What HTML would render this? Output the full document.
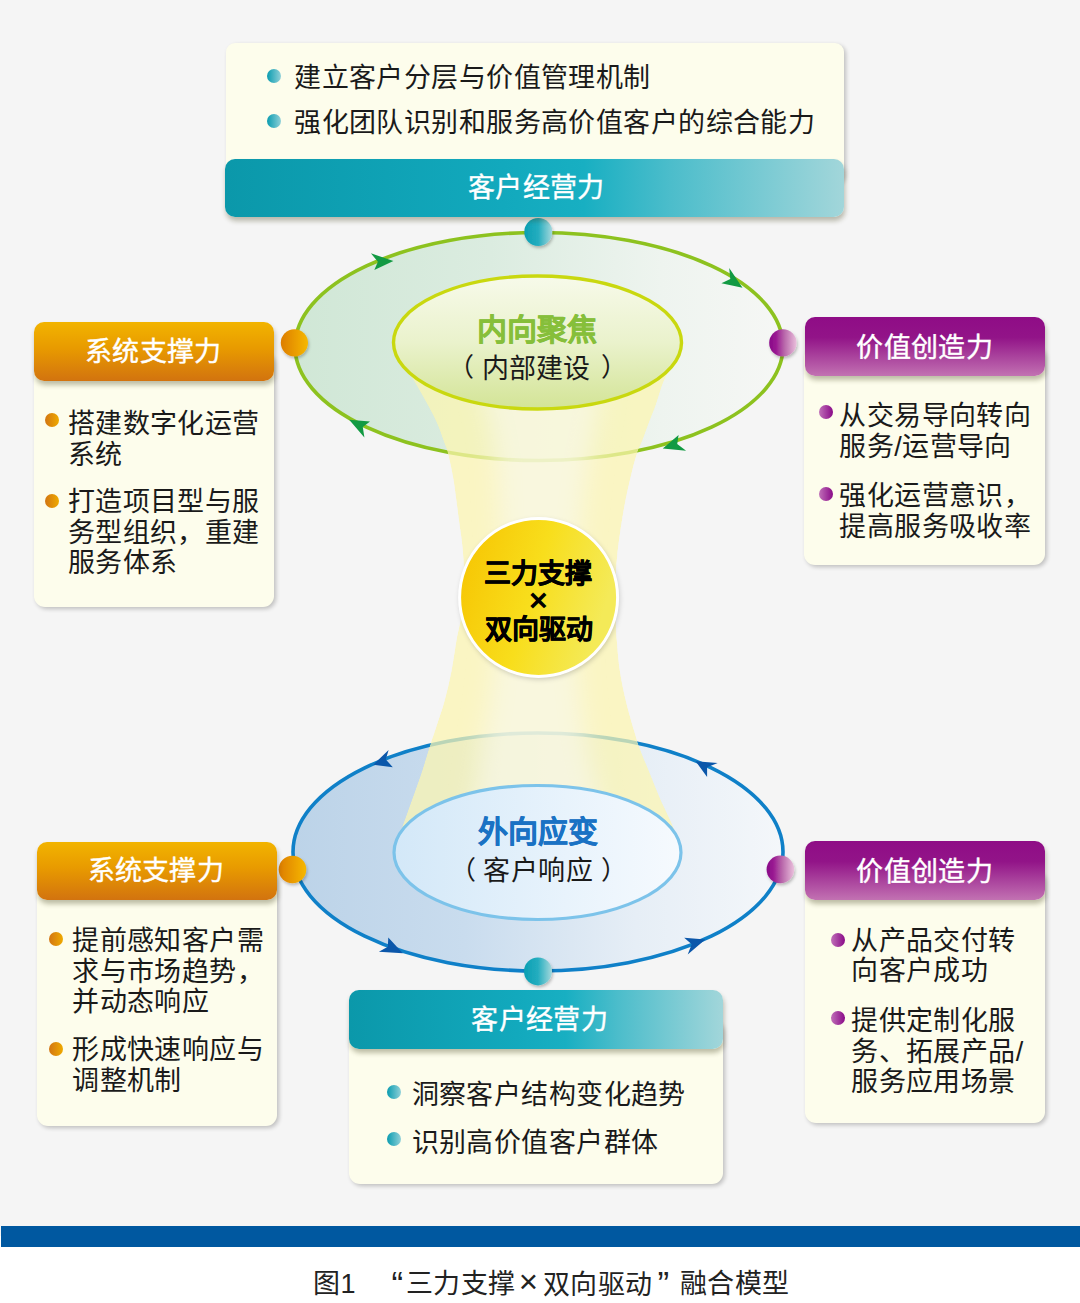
<!DOCTYPE html>
<html lang="zh-CN"><head><meta charset="utf-8"><style>
*{margin:0;padding:0;box-sizing:border-box}
html,body{width:1080px;height:1303px;overflow:hidden}
body{background:#fff;font-family:"Liberation Sans",sans-serif;position:relative;color:#1a1a1a}
.bg{position:absolute;left:0;top:0;width:1080px;height:1236px;background:#f5f5f5}
.bar{position:absolute;left:1px;top:1226px;width:1079px;height:21px;background:#0058a0}
.art{position:absolute;left:0;top:0}
.card{position:absolute;background:#fdfdec;border-radius:11px;box-shadow:2px 2px 4px rgba(0,0,0,0.22)}
.hdr{position:absolute;border-radius:10px;box-shadow:1px 4px 5px rgba(60,60,20,0.33)}
.ht{position:absolute;color:#fff;font-size:27px;line-height:30px;white-space:nowrap;letter-spacing:0.3px;font-weight:500;-webkit-text-stroke:0.4px #fff}
.or{background:linear-gradient(180deg,#f2b400 0%,#e89a00 45%,#d2730f 100%)}
.pu{background:linear-gradient(180deg,#8f0c86 0%,#921488 35%,#c272b2 100%)}
.te{background:linear-gradient(90deg,#0b98aa 0%,#12a9bd 45%,#18afc2 58%,#4cbdcb 72%,#a2d6da 100%)}
.t{position:absolute;font-size:27px;line-height:30.7px;white-space:nowrap;letter-spacing:0.43px}
.dot{position:absolute;width:14px;height:14px;border-radius:50%}
.dor{background:linear-gradient(90deg,#d27512,#efaa00)}
.dpu{background:linear-gradient(90deg,#c070b8,#8a0a88)}
.dte{background:linear-gradient(90deg,#0a9cb0,#8fd0d8)}
.lb{position:absolute;white-space:nowrap}
.cp{position:absolute;top:1266px;font-size:27px;line-height:30px;color:#222;white-space:nowrap;letter-spacing:0.4px}
</style></head>
<body>
<div class="bg"></div>
<svg class="art" width="1080" height="1303" viewBox="0 0 1080 1303">
<defs>
 <linearGradient id="gOut" x1="0" y1="0" x2="1" y2="0">
  <stop offset="0" stop-color="#d0e7d6"/><stop offset="0.4" stop-color="#dbece0"/><stop offset="0.75" stop-color="#eef4ef"/><stop offset="1" stop-color="#f6f7f5"/>
 </linearGradient>
 <linearGradient id="bOut" x1="0" y1="0" x2="1" y2="0">
  <stop offset="0" stop-color="#bcd3e8"/><stop offset="0.35" stop-color="#c9dcee"/><stop offset="0.7" stop-color="#e6eef6"/><stop offset="1" stop-color="#f4f7fa"/>
 </linearGradient>
 <linearGradient id="gIn" x1="0" y1="0" x2="0" y2="1">
  <stop offset="0" stop-color="#f7faea"/><stop offset="0.5" stop-color="#eaf2cc"/><stop offset="1" stop-color="#d3e496"/>
 </linearGradient>
 <linearGradient id="bIn" x1="0" y1="0" x2="1" y2="0">
  <stop offset="0" stop-color="#d3e8f8"/><stop offset="0.6" stop-color="#e8f3fc"/><stop offset="1" stop-color="#f6fafe"/>
 </linearGradient>
 <linearGradient id="beam" x1="0" y1="0" x2="1" y2="0">
  <stop offset="0" stop-color="#fbf4a8" stop-opacity="0.85"/>
  <stop offset="0.5" stop-color="#f7f6e0" stop-opacity="0.75"/>
  <stop offset="1" stop-color="#faf3ae" stop-opacity="0.85"/>
 </linearGradient>
 <linearGradient id="sun" x1="0" y1="0" x2="1" y2="0.3">
  <stop offset="0" stop-color="#f6c200"/><stop offset="0.55" stop-color="#f8de1c"/><stop offset="1" stop-color="#f4ea58"/>
 </linearGradient>
 <linearGradient id="dOr" x1="0" y1="0" x2="1" y2="0">
  <stop offset="0" stop-color="#dd7d06"/><stop offset="1" stop-color="#f6b800"/>
 </linearGradient>
 <linearGradient id="dPu" x1="0" y1="0" x2="1" y2="0">
  <stop offset="0" stop-color="#880888"/><stop offset="0.25" stop-color="#9a1a92"/><stop offset="0.55" stop-color="#b866aa"/><stop offset="1" stop-color="#eac0dc"/>
 </linearGradient>
 <linearGradient id="dTe" x1="0" y1="0" x2="1" y2="0">
  <stop offset="0" stop-color="#0b9fb3"/><stop offset="0.5" stop-color="#24adbf"/><stop offset="1" stop-color="#a6d8dc"/>
 </linearGradient>
 <filter id="blur8" x="-50%" y="-10%" width="200%" height="120%"><feGaussianBlur stdDeviation="12 6"/></filter>
 <filter id="blur3" x="-20%" y="-20%" width="140%" height="140%"><feGaussianBlur stdDeviation="2.5"/></filter>
 <filter id="sh" x="-20%" y="-20%" width="140%" height="140%"><feDropShadow dx="1" dy="2" stdDeviation="1.5" flood-color="#000" flood-opacity="0.25"/></filter>
</defs>
<ellipse cx="539" cy="346.5" rx="244" ry="114" fill="url(#gOut)" stroke="#8dc21f" stroke-width="3.6"/>
<ellipse cx="538" cy="852" rx="245" ry="119" fill="url(#bOut)" stroke="#0f80c8" stroke-width="3.6"/>
<clipPath id="beamClip"><path d="M392.0,343.0 C393.0,345.0 395.8,351.2 398.0,355.0 C400.2,358.8 402.1,361.3 405.0,366.0 C407.9,370.7 411.4,376.3 415.3,383.0 C419.2,389.7 424.6,399.1 428.3,406.0 C432.0,412.9 434.9,418.5 437.5,424.4 C440.1,430.3 441.9,436.2 443.7,441.3 C445.5,446.4 446.8,449.2 448.3,455.1 C449.8,461.0 451.6,469.5 452.9,476.6 C454.2,483.8 455.0,490.6 456.0,498.0 C457.0,505.4 458.0,513.3 459.0,521.0 C460.0,528.7 461.3,535.8 462.1,544.0 C462.9,552.2 463.8,561.5 464.0,570.0 C464.2,578.5 464.1,586.7 463.5,595.0 C462.9,603.3 461.7,612.5 460.5,620.0 C459.3,627.5 458.0,631.5 456.5,640.0 C455.0,648.5 453.5,660.5 451.5,670.7 C449.5,680.9 446.9,692.1 444.4,701.3 C441.9,710.5 438.9,718.5 436.5,725.9 C434.1,733.3 432.5,737.6 429.9,745.8 C427.3,754.0 423.8,765.8 420.7,775.0 C417.6,784.2 414.3,793.1 411.5,801.0 C408.7,808.9 406.2,816.0 403.8,822.5 C401.4,829.0 398.6,835.1 397.0,840.0 C395.4,844.9 394.5,850.0 394.0,852.0 L681.0,852.0 C680.5,850.0 679.5,844.7 678.0,840.0 C676.5,835.3 674.9,830.8 672.0,824.0 C669.1,817.2 664.2,807.7 660.6,799.5 C657.0,791.3 653.9,783.2 650.6,775.0 C647.3,766.8 643.3,757.6 640.6,750.4 C637.9,743.2 636.9,740.2 634.5,732.0 C632.1,723.8 628.4,711.5 626.0,701.3 C623.6,691.1 621.4,680.9 619.9,670.7 C618.4,660.5 617.5,648.5 616.8,640.0 C616.1,631.5 616.0,626.7 615.8,620.0 C615.5,613.3 615.3,607.5 615.3,600.0 C615.3,592.5 615.4,583.0 615.8,575.0 C616.2,567.0 616.8,559.4 617.6,551.7 C618.4,544.0 619.6,536.4 620.7,528.7 C621.9,521.0 623.2,512.6 624.5,505.7 C625.8,498.8 626.9,493.7 628.3,487.3 C629.7,480.9 631.5,473.3 633.0,467.4 C634.5,461.5 636.0,456.4 637.5,452.0 C639.0,447.6 640.3,445.9 642.1,441.3 C643.9,436.7 646.0,430.5 648.3,424.4 C650.6,418.3 653.5,411.6 656.0,404.5 C658.5,397.4 660.9,387.9 663.6,381.5 C666.3,375.1 669.4,370.4 672.0,366.0 C674.6,361.6 677.0,358.8 679.0,355.0 C681.0,351.2 683.2,345.0 684.0,343.0Z"/></clipPath>
<g clip-path="url(#beamClip)">
<path d="M392.0,343.0 C393.0,345.0 395.8,351.2 398.0,355.0 C400.2,358.8 402.1,361.3 405.0,366.0 C407.9,370.7 411.4,376.3 415.3,383.0 C419.2,389.7 424.6,399.1 428.3,406.0 C432.0,412.9 434.9,418.5 437.5,424.4 C440.1,430.3 441.9,436.2 443.7,441.3 C445.5,446.4 446.8,449.2 448.3,455.1 C449.8,461.0 451.6,469.5 452.9,476.6 C454.2,483.8 455.0,490.6 456.0,498.0 C457.0,505.4 458.0,513.3 459.0,521.0 C460.0,528.7 461.3,535.8 462.1,544.0 C462.9,552.2 463.8,561.5 464.0,570.0 C464.2,578.5 464.1,586.7 463.5,595.0 C462.9,603.3 461.7,612.5 460.5,620.0 C459.3,627.5 458.0,631.5 456.5,640.0 C455.0,648.5 453.5,660.5 451.5,670.7 C449.5,680.9 446.9,692.1 444.4,701.3 C441.9,710.5 438.9,718.5 436.5,725.9 C434.1,733.3 432.5,737.6 429.9,745.8 C427.3,754.0 423.8,765.8 420.7,775.0 C417.6,784.2 414.3,793.1 411.5,801.0 C408.7,808.9 406.2,816.0 403.8,822.5 C401.4,829.0 398.6,835.1 397.0,840.0 C395.4,844.9 394.5,850.0 394.0,852.0 L681.0,852.0 C680.5,850.0 679.5,844.7 678.0,840.0 C676.5,835.3 674.9,830.8 672.0,824.0 C669.1,817.2 664.2,807.7 660.6,799.5 C657.0,791.3 653.9,783.2 650.6,775.0 C647.3,766.8 643.3,757.6 640.6,750.4 C637.9,743.2 636.9,740.2 634.5,732.0 C632.1,723.8 628.4,711.5 626.0,701.3 C623.6,691.1 621.4,680.9 619.9,670.7 C618.4,660.5 617.5,648.5 616.8,640.0 C616.1,631.5 616.0,626.7 615.8,620.0 C615.5,613.3 615.3,607.5 615.3,600.0 C615.3,592.5 615.4,583.0 615.8,575.0 C616.2,567.0 616.8,559.4 617.6,551.7 C618.4,544.0 619.6,536.4 620.7,528.7 C621.9,521.0 623.2,512.6 624.5,505.7 C625.8,498.8 626.9,493.7 628.3,487.3 C629.7,480.9 631.5,473.3 633.0,467.4 C634.5,461.5 636.0,456.4 637.5,452.0 C639.0,447.6 640.3,445.9 642.1,441.3 C643.9,436.7 646.0,430.5 648.3,424.4 C650.6,418.3 653.5,411.6 656.0,404.5 C658.5,397.4 660.9,387.9 663.6,381.5 C666.3,375.1 669.4,370.4 672.0,366.0 C674.6,361.6 677.0,358.8 679.0,355.0 C681.0,351.2 683.2,345.0 684.0,343.0Z" fill="#fcf5b0" fill-opacity="0.72"/>
<path d="M465.0,343.0 C465.5,345.0 467.1,351.2 468.2,355.0 C469.4,358.8 470.2,361.3 471.8,366.0 C473.3,370.7 475.0,376.3 477.3,383.0 C479.5,389.7 482.9,399.1 485.1,406.0 C487.2,412.9 488.8,418.5 490.2,424.4 C491.6,430.3 492.4,436.2 493.3,441.3 C494.2,446.4 494.7,449.2 495.4,455.1 C496.1,461.0 496.9,469.5 497.4,476.6 C497.9,483.8 498.1,490.6 498.5,498.0 C498.9,505.4 499.3,513.3 499.7,521.0 C500.2,528.7 500.9,535.8 501.2,544.0 C501.6,552.2 502.0,561.5 502.0,570.0 C502.1,578.5 501.9,586.7 501.5,595.0 C501.0,603.3 500.1,612.5 499.3,620.0 C498.5,627.5 497.5,631.5 496.6,640.0 C495.6,648.5 494.7,660.5 493.6,670.7 C492.5,680.9 491.1,692.1 489.8,701.3 C488.5,710.5 486.8,718.5 485.6,725.9 C484.3,733.3 483.4,737.6 482.2,745.8 C481.0,754.0 479.5,765.8 478.2,775.0 C476.8,784.2 475.2,793.1 473.9,801.0 C472.7,808.9 471.8,816.0 470.7,822.5 C469.6,829.0 468.1,835.1 467.2,840.0 C466.4,844.9 466.0,850.0 465.8,852.0 L609.2,852.0 C609.0,850.0 608.5,844.7 607.8,840.0 C607.0,835.3 606.4,830.8 604.8,824.0 C603.3,817.2 600.4,807.7 598.5,799.5 C596.5,791.3 594.9,783.2 593.1,775.0 C591.3,766.8 589.0,757.6 587.6,750.4 C586.1,743.2 585.7,740.2 584.5,732.0 C583.3,723.8 581.7,711.5 580.6,701.3 C579.5,691.1 578.4,680.9 577.8,670.7 C577.2,660.5 576.9,648.5 576.7,640.0 C576.6,631.5 576.9,626.7 577.0,620.0 C577.1,613.3 577.1,607.5 577.2,600.0 C577.3,592.5 577.5,583.0 577.8,575.0 C578.1,567.0 578.4,559.4 578.9,551.7 C579.3,544.0 579.9,536.4 580.5,528.7 C581.2,521.0 581.9,512.6 582.6,505.7 C583.3,498.8 584.0,493.7 584.8,487.3 C585.6,480.9 586.6,473.3 587.5,467.4 C588.3,461.5 589.1,456.4 589.9,452.0 C590.8,447.6 591.6,445.9 592.5,441.3 C593.4,436.7 594.5,430.5 595.6,424.4 C596.7,418.3 597.9,411.6 598.9,404.5 C599.8,397.4 600.2,387.9 601.3,381.5 C602.4,375.1 604.0,370.4 605.2,366.0 C606.5,361.6 607.8,358.8 608.8,355.0 C609.7,351.2 610.6,345.0 611.0,343.0Z" fill="#f8f8f0" fill-opacity="0.6" filter="url(#blur8)"/>
</g>
<ellipse cx="537.5" cy="342.5" rx="144" ry="66.5" fill="url(#gIn)" stroke="#c9d80f" stroke-width="3.4"/>
<ellipse cx="537.5" cy="852.5" rx="143.5" ry="67" fill="url(#bIn)" stroke="#7cc3ea" stroke-width="3.2"/>
<path d="M393.4,261.1 L370.9,253.3 L377.9,261.7 L374.3,270.1Z" fill="#129a43"/><path d="M742.5,287.8 L729.2,268.0 L730.3,278.9 L721.4,283.3Z" fill="#129a43"/><path d="M662.8,448.6 L678.6,435.0 L677.2,443.9 L686.1,450.8Z" fill="#129a43"/><path d="M349.2,419.7 L370.0,421.4 L362.8,426.9 L364.4,437.5Z" fill="#129a43"/><path d="M373.3,764.7 L388.6,750.0 L385.8,759.4 L392.8,767.2Z" fill="#0b57aa"/><path d="M402.8,953.3 L388.3,937.5 L387.8,946.7 L378.9,951.7Z" fill="#0b57aa"/><path d="M695.6,761.2 L717.7,763.0 L707.1,767.2 L707.1,777.1Z" fill="#0b57aa"/><path d="M705.3,939.6 L684.2,937.8 L691.7,944.3 L687.7,954.6Z" fill="#0b57aa"/>
<circle cx="539.6" cy="599.4" r="80" fill="#000" fill-opacity="0.18" filter="url(#blur3)"/>
<circle cx="538.6" cy="597.4" r="79" fill="url(#sun)" stroke="#fff" stroke-width="3"/>
<circle cx="294.4" cy="342.8" r="13.6" fill="url(#dOr)" filter="url(#sh)"/>
<circle cx="782.9" cy="342.9" r="13.7" fill="url(#dPu)" filter="url(#sh)"/>
<circle cx="538.3" cy="232" r="14" fill="url(#dTe)" filter="url(#sh)"/>
<circle cx="292.5" cy="869.5" r="13.8" fill="url(#dOr)" filter="url(#sh)"/>
<circle cx="780.4" cy="869.4" r="13.8" fill="url(#dPu)" filter="url(#sh)"/>
<circle cx="538" cy="971.4" r="14" fill="url(#dTe)" filter="url(#sh)"/>
</svg>
<div class="card" style="left:226px;top:42.6px;width:617.5px;height:140px;border-radius:9px"></div>
<div class="dot dte" style="left:266.9px;top:69.1px"></div>
<div class="t" style="left:294.1px;top:63.4px">建立客户分层与价值管理机制</div>
<div class="dot dte" style="left:266.9px;top:113.6px"></div>
<div class="t" style="left:294.1px;top:107.6px">强化团队识别和服务高价值客户的综合能力</div>
<div class="hdr te" style="left:225px;top:158.7px;width:619px;height:58.7px"></div>
<div class="ht" style="left:468.1px;top:173.2px">客户经营力</div>
<div class="card" style="left:34px;top:352px;width:240px;height:255px"></div>
<div class="hdr or" style="left:33.8px;top:322px;width:240.7px;height:59px"></div>
<div class="ht" style="left:85.0px;top:337.0px">系统支撑力</div>
<div class="dot dor" style="left:45.0px;top:413.0px"></div>
<div class="t" style="left:67.7px;top:408.8px">搭建数字化运营<br>系统</div>
<div class="dot dor" style="left:45.0px;top:494.2px"></div>
<div class="t" style="left:67.7px;top:487.0px">打造项目型与服<br>务型组织，重建<br>服务体系</div>
<div class="card" style="left:804.3px;top:346px;width:240.7px;height:219px"></div>
<div class="hdr pu" style="left:804.6px;top:316.5px;width:240.4px;height:59px"></div>
<div class="ht" style="left:856.4px;top:333.0px">价值创造力</div>
<div class="dot dpu" style="left:818.6px;top:404.8px"></div>
<div class="t" style="left:839.3px;top:401.1px">从交易导向转向<br>服务/运营导向</div>
<div class="dot dpu" style="left:818.6px;top:486.7px"></div>
<div class="t" style="left:839.3px;top:481.1px">强化运营意识，<br>提高服务吸收率</div>
<div class="card" style="left:36.9px;top:870px;width:239.8px;height:255.6px"></div>
<div class="hdr or" style="left:36.9px;top:841.7px;width:239.8px;height:58.3px"></div>
<div class="ht" style="left:87.6px;top:856.2px">系统支撑力</div>
<div class="dot dor" style="left:48.8px;top:931.9px"></div>
<div class="t" style="left:72.1px;top:925.9px">提前感知客户需<br>求与市场趋势，<br>并动态响应</div>
<div class="dot dor" style="left:48.8px;top:1042.0px"></div>
<div class="t" style="left:72.1px;top:1035.4px">形成快速响应与<br>调整机制</div>
<div class="card" style="left:804.5px;top:870px;width:240.5px;height:252.5px"></div>
<div class="hdr pu" style="left:804.5px;top:841px;width:240.5px;height:58.5px"></div>
<div class="ht" style="left:856.4px;top:856.6px">价值创造力</div>
<div class="dot dpu" style="left:830.5px;top:933.0px"></div>
<div class="t" style="left:851.1px;top:925.6px">从产品交付转<br>向客户成功</div>
<div class="dot dpu" style="left:830.5px;top:1010.5px"></div>
<div class="t" style="left:851.1px;top:1006.0px">提供定制化服<br>务、拓展产品/<br>服务应用场景</div>
<div class="card" style="left:349px;top:1020px;width:374px;height:164px"></div>
<div class="hdr te" style="left:349px;top:990.4px;width:374px;height:58.6px"></div>
<div class="ht" style="left:471.4px;top:1005.2px">客户经营力</div>
<div class="dot dte" style="left:386.6px;top:1084.7px"></div>
<div class="t" style="left:411.5px;top:1079.5px">洞察客户结构变化趋势</div>
<div class="dot dte" style="left:386.6px;top:1132.2px"></div>
<div class="t" style="left:411.5px;top:1127.5px">识别高价值客户群体</div>
<div class="lb" style="left:476.6px;top:310.3px;font-size:30px;line-height:40px;font-weight:700;color:#86bf3a;letter-spacing:0.3px;-webkit-text-stroke:0.4px #86bf3a">内向聚焦</div>
<div class="lb" style="left:448.0px;top:348.5px;font-size:26px;line-height:36px;color:#1a1a1a">（</div>
<div class="lb" style="left:481.7px;top:350.5px;font-size:27px;line-height:36px;color:#1a1a1a;letter-spacing:0px">内部建设</div>
<div class="lb" style="left:601.0px;top:348.5px;font-size:26px;line-height:36px;color:#1a1a1a">）</div>
<div class="lb" style="left:477.5px;top:811.5px;font-size:30px;line-height:40px;font-weight:700;color:#1a72c4;letter-spacing:0.3px;-webkit-text-stroke:0.4px #1a72c4">外向应变</div>
<div class="lb" style="left:449.5px;top:852.0px;font-size:26px;line-height:36px;color:#1a1a1a">（</div>
<div class="lb" style="left:483.1px;top:853.0px;font-size:27px;line-height:36px;color:#1a1a1a;letter-spacing:0.6px">客户响应</div>
<div class="lb" style="left:600.5px;top:852.0px;font-size:26px;line-height:36px;color:#1a1a1a">）</div>
<div class="lb" style="left:483.9px;top:559.3px;font-size:27px;line-height:30px;font-weight:900;color:#000;-webkit-text-stroke:0.5px #000">三力支撑</div>
<div class="lb" style="left:529.0px;top:582.0px;font-size:32px;line-height:36px;font-weight:700;color:#000">×</div>
<div class="lb" style="left:484.9px;top:614.9px;font-size:27px;line-height:30px;font-weight:900;color:#000;-webkit-text-stroke:0.5px #000">双向驱动</div>
<div class="bar"></div>
<div class="cp" style="left:313.2px;margin-top:3.0px">图1</div>
<div class="cp" style="left:391.4px;margin-top:2.6px"><span style="font-size:35px">“</span></div>
<div class="cp" style="left:405.9px;margin-top:3.0px">三力支撑</div>
<div class="cp" style="left:518.8px;margin-top:1.4px"><span style="font-size:33px">×</span></div>
<div class="cp" style="left:542.9px;margin-top:3.5px">双向驱动</div>
<div class="cp" style="left:657.4px;margin-top:2.6px"><span style="font-size:35px">”</span></div>
<div class="cp" style="left:679.8px;margin-top:3.0px">融合模型</div>
</body></html>
